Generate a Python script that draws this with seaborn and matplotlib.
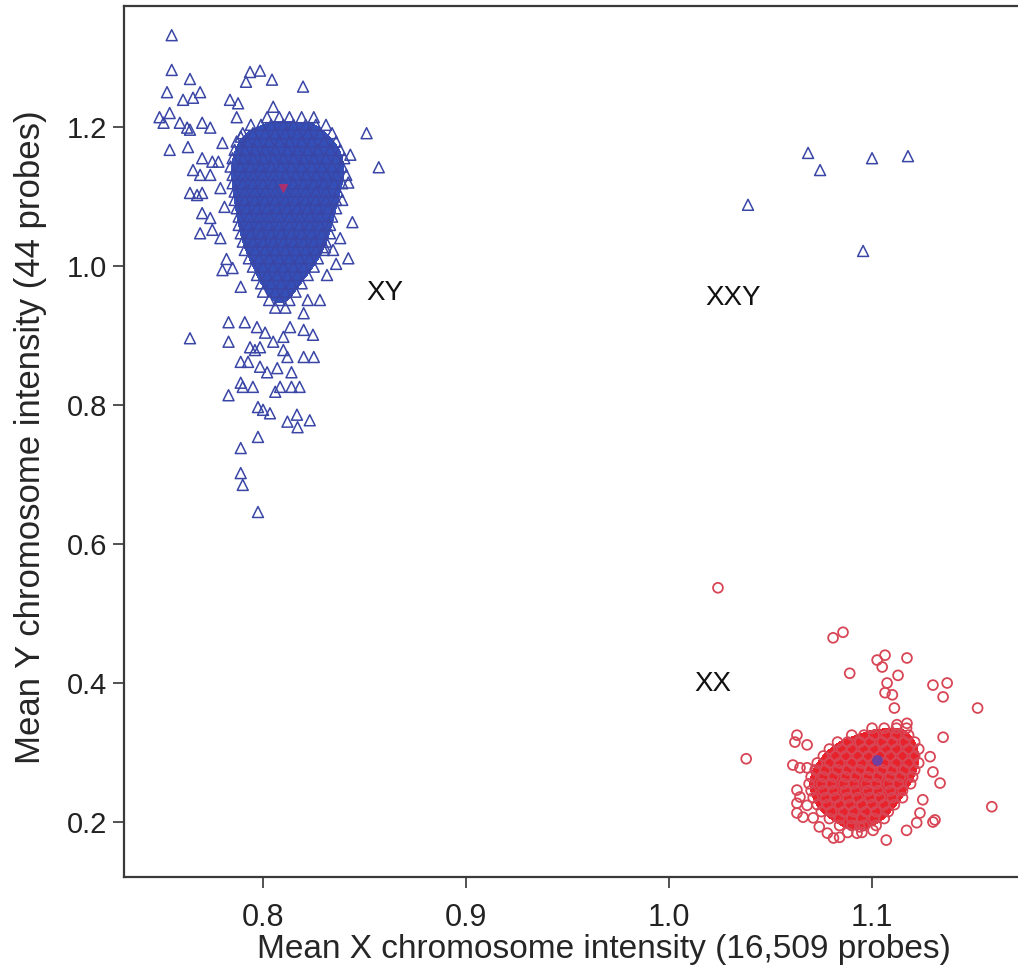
import numpy as np
import pandas as pd
import seaborn as sns
import matplotlib
matplotlib.use("Agg")
import matplotlib.pyplot as plt
from matplotlib.colors import ListedColormap

sns.set_theme(style="white")
plt.rcParams["font.family"] = ["Liberation Sans", "DejaVu Sans"]

# ---- XY samples (triangles): sparse points around the main cluster ----
xy_sparse_x = [0.755, 0.755, 0.764, 0.7936, 0.7985, 0.7916, 0.8044, 0.8197, 0.7527,
               0.7606, 0.7655, 0.769, 0.7837, 0.7877, 0.805, 0.787, 0.749, 0.754,
               0.751, 0.759, 0.7626, 0.764, 0.770, 0.774, 0.851, 0.754, 0.763,
               0.780, 0.789, 0.770, 0.775, 0.778, 0.857, 0.7655, 0.769, 0.774,
               0.779, 0.764, 0.7675, 0.770, 0.770, 0.774, 0.769, 0.775, 0.844,
               0.8305, 0.8345, 0.842, 0.8315, 0.780, 0.785, 0.789, 0.822, 0.828,
               0.820, 0.783, 0.791, 0.764, 0.783, 0.797, 0.801, 0.7985, 0.805,
               0.810, 0.8133, 0.820, 0.8246, 0.7936, 0.796, 0.810, 0.812, 0.820,
               0.825, 0.789, 0.7926, 0.7985, 0.802, 0.807, 0.814, 0.789, 0.790,
               0.795, 0.783, 0.806, 0.8084, 0.814, 0.818, 0.7975, 0.800, 0.8034,
               0.812, 0.8167, 0.817, 0.823, 0.7975, 0.789, 0.789, 0.790, 0.7975,
               0.839, 0.842, 0.781, 0.779, 0.843, 0.838, 0.782, 0.836]
xy_sparse_y = [1.332, 1.282, 1.269, 1.279, 1.281, 1.265, 1.268, 1.258, 1.250,
               1.239, 1.242, 1.250, 1.239, 1.234, 1.229, 1.214, 1.214, 1.220,
               1.206, 1.206, 1.199, 1.196, 1.206, 1.199, 1.191, 1.167, 1.171,
               1.177, 1.186, 1.155, 1.150, 1.150, 1.142, 1.138, 1.131, 1.131,
               1.112, 1.105, 1.102, 1.105, 1.076, 1.069, 1.047, 1.052, 1.063,
               1.027, 1.023, 1.011, 0.987, 0.994, 0.997, 0.970, 0.951, 0.951,
               0.932, 0.919, 0.919, 0.896, 0.891, 0.912, 0.904, 0.883, 0.891,
               0.898, 0.912, 0.908, 0.901, 0.883, 0.879, 0.879, 0.869, 0.869,
               0.869, 0.862, 0.862, 0.855, 0.847, 0.853, 0.847, 0.832, 0.826,
               0.826, 0.814, 0.819, 0.826, 0.826, 0.826, 0.797, 0.793, 0.788,
               0.776, 0.786, 0.768, 0.778, 0.754, 0.738, 0.702, 0.685, 0.646,
               1.095, 1.120, 1.085, 1.040, 1.160, 1.040, 1.010, 1.003]

# ---- XY samples: saturated core, read row by row (y level, x positions) ----
xy_core_levels = [1.214, 1.203, 1.191, 1.179, 1.167, 1.155, 1.143, 1.131, 1.119,
                  1.107, 1.095, 1.083, 1.071, 1.059, 1.047, 1.035, 1.023, 1.011,
                  0.999, 0.987, 0.975, 0.963, 0.951, 0.940]
xy_core_rows = [
    [0.802, 0.808, 0.813, 0.819, 0.825],
    [0.794, 0.799, 0.804, 0.810, 0.815, 0.821, 0.826, 0.831],
    [0.790, 0.795, 0.801, 0.806, 0.811, 0.817, 0.822, 0.828, 0.834],
    [0.787, 0.792, 0.797, 0.803, 0.808, 0.813, 0.819, 0.824, 0.830, 0.836],
    [0.786, 0.791, 0.796, 0.801, 0.806, 0.812, 0.817, 0.822, 0.827, 0.833, 0.838],
    [0.785, 0.790, 0.795, 0.800, 0.805, 0.810, 0.815, 0.820, 0.825, 0.831, 0.836, 0.840],
    [0.784, 0.789, 0.794, 0.799, 0.804, 0.809, 0.814, 0.819, 0.824, 0.829, 0.834, 0.839],
    [0.785, 0.790, 0.795, 0.800, 0.805, 0.811, 0.816, 0.821, 0.826, 0.831, 0.836, 0.841],
    [0.785, 0.790, 0.795, 0.800, 0.805, 0.810, 0.815, 0.820, 0.825, 0.830, 0.835, 0.839],
    [0.786, 0.791, 0.796, 0.801, 0.806, 0.811, 0.816, 0.821, 0.826, 0.831, 0.837],
    [0.786, 0.791, 0.796, 0.801, 0.806, 0.811, 0.816, 0.821, 0.826, 0.831, 0.836],
    [0.787, 0.792, 0.797, 0.802, 0.807, 0.812, 0.817, 0.822, 0.827, 0.832, 0.836],
    [0.788, 0.793, 0.798, 0.803, 0.808, 0.813, 0.818, 0.823, 0.828, 0.834],
    [0.788, 0.793, 0.798, 0.803, 0.808, 0.813, 0.818, 0.823, 0.828, 0.833],
    [0.789, 0.794, 0.799, 0.804, 0.809, 0.814, 0.819, 0.824, 0.829, 0.833],
    [0.790, 0.795, 0.800, 0.805, 0.810, 0.815, 0.820, 0.825, 0.831],
    [0.791, 0.796, 0.801, 0.806, 0.811, 0.816, 0.821, 0.826, 0.830],
    [0.793, 0.798, 0.803, 0.808, 0.813, 0.818, 0.823, 0.827],
    [0.795, 0.800, 0.805, 0.810, 0.815, 0.820, 0.825],
    [0.797, 0.802, 0.807, 0.812, 0.817, 0.822],
    [0.799, 0.804, 0.809, 0.814, 0.819],
    [0.800, 0.806, 0.811, 0.816],
    [0.803, 0.808, 0.813],
    [0.806, 0.811],
]

# ---- XXY samples (triangles) ----
xxy_x = [1.0685, 1.0744, 1.100, 1.1177, 1.0389, 1.0956]
xxy_y = [1.1626, 1.138, 1.155, 1.158, 1.088, 1.0216]

# ---- XX samples (circles): sparse points ----
xx_sparse_x = [1.0241, 1.0808, 1.0857, 1.089, 1.1025, 1.1064, 1.105, 1.1172, 1.1128,
               1.1074, 1.1064, 1.110, 1.130, 1.137, 1.135, 1.111, 1.152, 1.135,
               1.038, 1.063, 1.068, 1.062, 1.159, 1.131, 1.107, 1.1123, 1.1172,
               1.061, 1.0645, 1.068, 1.063, 1.0645, 1.063, 1.068, 1.063, 1.066,
               1.071, 1.074, 1.078, 1.081, 1.084, 1.130, 1.125, 1.1236, 1.122,
               1.117, 1.1335, 1.130, 1.1286, 1.094, 1.1005, 1.0926]
xx_sparse_y = [0.537, 0.465, 0.473, 0.414, 0.433, 0.440, 0.423, 0.436, 0.411,
               0.400, 0.386, 0.383, 0.397, 0.400, 0.380, 0.364, 0.364, 0.322,
               0.291, 0.325, 0.311, 0.315, 0.222, 0.203, 0.174, 0.340, 0.342,
               0.282, 0.278, 0.278, 0.246, 0.236, 0.227, 0.224, 0.213, 0.207,
               0.206, 0.193, 0.184, 0.177, 0.178, 0.200, 0.232, 0.213, 0.199,
               0.188, 0.256, 0.272, 0.294, 0.193, 0.188, 0.184]

# ---- XX samples: saturated core, read row by row ----
xx_core_levels = [0.335, 0.325, 0.315, 0.305, 0.295, 0.285, 0.275, 0.265, 0.255,
                  0.245, 0.235, 0.225, 0.215, 0.205, 0.195, 0.185]
xx_core_rows = [
    [1.100, 1.106, 1.112, 1.117],
    [1.090, 1.096, 1.101, 1.107, 1.112, 1.118],
    [1.083, 1.088, 1.094, 1.099, 1.105, 1.110, 1.116, 1.121],
    [1.079, 1.085, 1.090, 1.096, 1.101, 1.107, 1.112, 1.118, 1.123],
    [1.076, 1.082, 1.087, 1.093, 1.098, 1.104, 1.109, 1.115, 1.121],
    [1.073, 1.079, 1.084, 1.090, 1.095, 1.101, 1.106, 1.112, 1.118, 1.123],
    [1.072, 1.077, 1.083, 1.088, 1.094, 1.099, 1.105, 1.110, 1.116, 1.121],
    [1.070, 1.076, 1.081, 1.087, 1.092, 1.098, 1.103, 1.109, 1.114, 1.120],
    [1.069, 1.075, 1.080, 1.086, 1.091, 1.097, 1.102, 1.108, 1.113, 1.119],
    [1.070, 1.076, 1.081, 1.087, 1.092, 1.098, 1.103, 1.109, 1.115],
    [1.071, 1.077, 1.082, 1.088, 1.093, 1.099, 1.104, 1.110, 1.115],
    [1.073, 1.078, 1.084, 1.089, 1.095, 1.100, 1.106, 1.111],
    [1.075, 1.080, 1.086, 1.091, 1.097, 1.102, 1.108],
    [1.079, 1.084, 1.090, 1.095, 1.101, 1.106],
    [1.084, 1.090, 1.096, 1.102],
    [1.088, 1.095],
]

# cluster centres
xy_centre = (0.8099, 1.112)
xx_centre = (1.1023, 0.289)

# group labels
labels = ["XY", "XXY", "XX"]
label_x = [0.860, 1.0315, 1.0217]
label_y = [0.961, 0.954, 0.399]

x_ticks = [0.8, 0.9, 1.0, 1.1]
y_ticks = [0.2, 0.4, 0.6, 0.8, 1.0, 1.2]
x_label = "Mean X chromosome intensity (16,509 probes)"
y_label = "Mean Y chromosome intensity (44 probes)"


def flatten(levels, rows):
    xs, ys = [], []
    for yv, row in zip(levels, rows):
        xs.extend(row)
        ys.extend([yv] * len(row))
    return xs, ys


xy_core_x, xy_core_y = flatten(xy_core_levels, xy_core_rows)
xx_core_x, xx_core_y = flatten(xx_core_levels, xx_core_rows)

tri_df = pd.DataFrame({
    "x": xy_sparse_x + xy_core_x + xxy_x,
    "y": xy_sparse_y + xy_core_y + xxy_y,
})
circ_df = pd.DataFrame({
    "x": xx_sparse_x + xx_core_x,
    "y": xx_sparse_y + xx_core_y,
})

BLUE_EDGE = "#3a46a6"
BLUE_FILL = "#3450b8"
RED_EDGE = "#d84656"
RED_FILL = "#e8222a"

fig = plt.figure(figsize=(10.18, 9.71), dpi=100)
ax = fig.add_axes([124 / 1018, 1 - 877 / 971, 1 - 124 / 1018, (877 - 6) / 971])

# saturated density of the two large clusters
sns.kdeplot(x=xy_core_x, y=xy_core_y, fill=True, levels=[0.22, 1.0],
            cmap=ListedColormap([BLUE_FILL]), bw_adjust=0.75, ax=ax, zorder=1)
sns.kdeplot(x=xx_core_x, y=xx_core_y, fill=True, levels=[0.22, 1.0],
            cmap=ListedColormap([RED_FILL]), bw_adjust=0.75, ax=ax, zorder=1)

sns.scatterplot(data=tri_df, x="x", y="y", marker="^", s=62, facecolors="none",
                edgecolors=BLUE_EDGE, linewidths=1.1, ax=ax, zorder=2, legend=False)
sns.scatterplot(data=circ_df, x="x", y="y", marker="o", s=50, facecolors="none",
                edgecolors=RED_EDGE, linewidths=1.3, ax=ax, zorder=2, legend=False)

ax.scatter([xy_centre[0]], [xy_centre[1]], marker="v", s=30, color="#a8306e", zorder=3)
ax.scatter([xx_centre[0]], [xx_centre[1]], marker="o", s=45, color="#7040a0", zorder=3)

for t, lx, ly in zip(labels, label_x, label_y):
    ax.text(lx, ly, t, ha="center", va="center", fontsize=20, color="#111111")

ax.set_xlim(0.7315, 1.1719)
ax.set_ylim(0.1209, 1.374)
ax.set_xticks(x_ticks)
ax.set_xticklabels([f"{v:.1f}" for v in x_ticks], fontsize=22)
ax.set_yticks(y_ticks)
ax.set_yticklabels([f"{v:.1f}" for v in y_ticks], fontsize=21)
ax.set_xlabel(x_label, fontsize=24)
ax.set_ylabel(y_label, fontsize=25)
# the frame runs on past the right edge, so the x label sits right of the visible centre
ax.xaxis.set_label_coords(0.537, -0.066)
ax.yaxis.set_label_coords(-0.086, 0.505)

for side in ["left", "bottom", "top"]:
    ax.spines[side].set_color("#3a3a3a")
    ax.spines[side].set_linewidth(1.6)
ax.spines["right"].set_visible(False)
ax.tick_params(axis="both", direction="out", length=8, width=1.3, color="#444444",
               left=True, bottom=True, labelcolor="#222222")
ax.tick_params(axis="x", pad=11)
ax.tick_params(axis="y", pad=4)

fig.savefig("out.png", dpi=100)
